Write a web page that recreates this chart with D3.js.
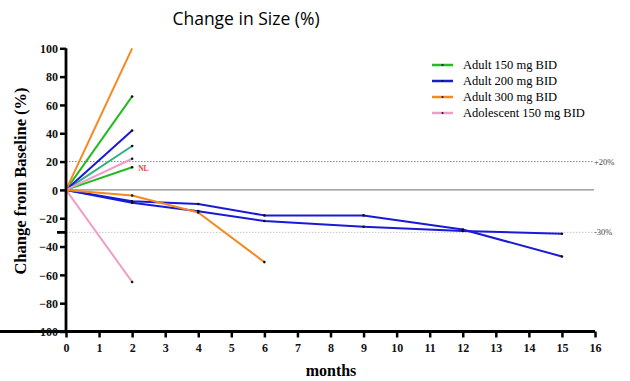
<!DOCTYPE html>
<html>
<head>
<meta charset="utf-8">
<script src="https://cdn.jsdelivr.net/npm/d3@7"></script>
<style>
	body { margin: 0; background: #fff; }
	svg { display: block; }
</style>
</head>
<body>
<svg id="chart" width="630" height="381"></svg>
<script>
// values (month, % change)
const xTicks = d3.range(0, 17);
const yTicks = d3.range(-100, 101, 20);
const refLines = [20, -30];
const refLabels = ['+20%', '-30%'];

const adult150 = [[[0, 0], [2, 66]], [[0, 0], [2, 16]]];
const adult150Teal = [[[0, 0], [2, 31]]];
const adult200 = [
	[[0, 0], [2, 42]],
	[[0, 0], [2, -8], [4, -10], [6, -18], [9, -18], [12, -28], [15, -47]],
	[[0, 0], [2, -9], [4, -15], [6, -22], [9, -26], [12, -29], [15, -31]]
];
const adult300 = [[[0, 0], [2, 100]], [[0, 0], [2, -4], [4, -16], [6, -51]]];
const adolescent150 = [[[0, 0], [2, 22]], [[0, 0], [2, -65]]];

const legendNames = ['Adult 150 mg BID', 'Adult 200 mg BID', 'Adult 300 mg BID', 'Adolescent 150 mg BID'];
const legendColors = ['#22bb22', '#1a1ad6', '#f5891f', '#ef9ec8'];

const series = [
	...adult150.map(d => ({ pts: d, color: legendColors[0] })),
	...adult150Teal.map(d => ({ pts: d, color: '#2db380' })),
	...adult200.map(d => ({ pts: d, color: legendColors[1] })),
	...adult300.map(d => ({ pts: d, color: legendColors[2] })),
	...adolescent150.map(d => ({ pts: d, color: legendColors[3] }))
];

const serif = 'Liberation Serif, Times New Roman, serif';
const svg = d3.select('#chart');
const x = d3.scaleLinear([0, 16], [66, 595]);
const y = d3.scaleLinear([-100, 100], [331.5, 48.3]);

svg.append('text')
	.attr('x', 246).attr('y', 25)
	.attr('text-anchor', 'middle')
	.style('font-family', 'Open Sans, sans-serif')
	.style('font-size', '17.5px')
	.text('Change in Size (%)');

// zero line
svg.append('line')
	.attr('x1', x(0)).attr('x2', x(16) - 1)
	.attr('y1', y(0)).attr('y2', y(0))
	.style('stroke', '#8a8a8a').style('stroke-width', 1.2);

// reference lines
svg.selectAll('line.ref').data(refLines).join('line')
	.attr('class', 'ref')
	.attr('x1', x(0)).attr('x2', x(16) - 2)
	.attr('y1', d => y(d)).attr('y2', d => y(d))
	.style('stroke', (d, i) => i ? '#bbb' : '#666')
	.style('stroke-width', 0.8)
	.style('stroke-dasharray', '1.5,1.5');
svg.selectAll('text.ref').data(refLines).join('text')
	.attr('class', 'ref')
	.attr('x', x(16) - 1).attr('y', d => y(d) + 3)
	.style('font-family', serif)
	.style('font-size', '8.5px')
	.style('fill', '#444')
	.text((d, i) => refLabels[i]);

const line = d3.line(d => x(d[0]), d => y(d[1]));
svg.append('g').selectAll('path').data(series).join('path')
	.attr('d', d => line(d.pts))
	.style('fill', 'none')
	.style('stroke', d => d.color)
	.style('stroke-width', 2)
	.style('stroke-linejoin', 'round');

const dots = series.flatMap(s => s.pts.filter(p => p[0] > 0 && p[1] < 100));
svg.append('g').selectAll('circle').data(dots).join('circle')
	.attr('cx', d => x(d[0])).attr('cy', d => y(d[1]))
	.attr('r', 1.3)
	.style('fill', '#111');

svg.append('text')
	.attr('x', x(2) + 6).attr('y', y(16) + 4)
	.style('font-family', serif)
	.style('font-size', '7.5px')
	.style('font-weight', 'bold')
	.style('fill', '#e04040')
	.text('NL');

// axes
const xAxis = svg.append('g')
	.attr('transform', `translate(0,${y(-100)})`)
	.call(d3.axisBottom(x).tickValues(xTicks).tickSize(6).tickPadding(6).tickFormat(d3.format('d')));
const yAxis = svg.append('g')
	.attr('transform', `translate(${x(0)},0)`)
	.call(d3.axisLeft(y).tickValues(yTicks).tickSize(6).tickPadding(2).tickFormat(d3.format('d')));
[xAxis, yAxis].forEach(g => {
	g.attr('font-family', null).attr('font-size', null);
	g.select('.domain').style('stroke', '#000').style('stroke-width', 2.8);
	g.selectAll('.tick line').style('stroke', '#000').style('stroke-width', 2.5);
	g.selectAll('.tick text')
		.style('fill', '#111')
		.style('font-family', serif)
		.style('font-weight', 'bold')
		.style('font-size', '12px');
});
yAxis.selectAll('.tick text').attr('dy', '0.35em');
yAxis.select('.domain').attr('d', `M0,${y(100)}V${y(-100)}`);
xAxis.select('.domain').attr('d', `M0,0H${x(16)}`);
// long tick at -30
yAxis.append('line')
	.attr('x1', -9).attr('x2', 0)
	.attr('y1', y(-30)).attr('y2', y(-30))
	.style('stroke', '#000').style('stroke-width', 2.8);

svg.append('text')
	.attr('transform', `translate(26,181) rotate(-90)`)
	.attr('text-anchor', 'middle')
	.style('font-family', serif)
	.style('font-weight', 'bold')
	.style('font-size', '16.5px')
	.text('Change from Baseline (%)');
svg.append('text')
	.attr('x', 331).attr('y', 376)
	.attr('text-anchor', 'middle')
	.style('font-family', serif)
	.style('font-weight', 'bold')
	.style('font-size', '16px')
	.text('months');

// legend
const legend = svg.append('g').selectAll('g').data(legendNames).join('g')
	.attr('transform', (d, i) => `translate(432,${65 + i * 16})`);
legend.append('line')
	.attr('x1', 0).attr('x2', 21)
	.style('stroke', (d, i) => legendColors[i])
	.style('stroke-width', 2.5);
legend.append('circle').attr('cx', 10.5).attr('r', 1).style('fill', '#111');
legend.append('text')
	.attr('x', 31).attr('y', 4)
	.style('font-family', serif)
	.style('font-size', '12.5px')
	.text(d => d);
</script>
</body>
</html>
